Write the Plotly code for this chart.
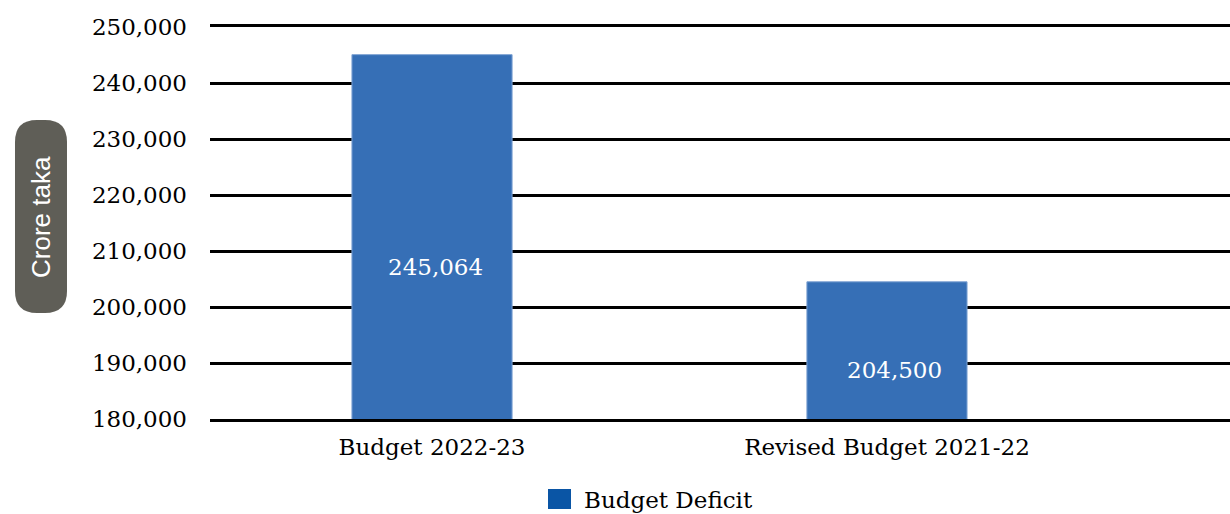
import plotly.graph_objects as go

# ---- data ----
categories = ["Budget 2022-23", "Revised Budget 2021-22"]
budget_deficit = [245064, 204500]
value_labels = ["245,064", "204,500"]
series_name = "Budget Deficit"
y_title = "Crore taka"
y_ticks = [180000, 190000, 200000, 210000, 220000, 230000, 240000, 250000]
y_tick_text = ["180,000", "190,000", "200,000", "210,000", "220,000", "230,000", "240,000", "250,000"]

# ---- layout constants ----
W, H = 1230, 514
ML, MR, MT, MB = 210, 0, 27, 95
PW = W - ML - MR
PH = H - MT - MB
SERIF = "DejaVu Serif"
SANS = "Liberation Sans"
BAR_COLOR = "#366FB6"
LEGEND_COLOR = "#0A55A5"
label_y = [207100, 188800]
label_xshift = [3, 8]


def px_x(px):
    return (px - ML) / PW


def px_y(py):
    return (H - MB - py) / PH


def rounded_rect(x0, y0, x1, y1, r):
    pts = [
        ("M", [(x0 + r, y0)]),
        ("L", [(x1 - r, y0)]),
        ("Q", [(x1, y0), (x1, y0 + r)]),
        ("L", [(x1, y1 - r)]),
        ("Q", [(x1, y1), (x1 - r, y1)]),
        ("L", [(x0 + r, y1)]),
        ("Q", [(x0, y1), (x0, y1 - r)]),
        ("L", [(x0, y0 + r)]),
        ("Q", [(x0, y0), (x0 + r, y0)]),
    ]
    s = ""
    for cmd, ps in pts:
        s += cmd + " " + " ".join(f"{px_x(a):.5f},{px_y(b):.5f}" for a, b in ps) + " "
    return s + "Z"


fig = go.Figure()
fig.add_trace(go.Bar(
    x=categories,
    y=budget_deficit,
    name=series_name,
    width=0.352,
    marker=dict(color=BAR_COLOR, line=dict(color="#7FA3D3", width=1)),
    showlegend=False,
    hoverinfo="x+y",
))

for i, cat in enumerate(categories):
    fig.add_annotation(
        x=cat, y=label_y[i], xref="x", yref="y",
        text=value_labels[i], showarrow=False, xshift=label_xshift[i],
        font=dict(family=SERIF, size=23, color="white"),
    )

# y-axis title box
fig.add_shape(
    type="path", xref="paper", yref="paper",
    path=rounded_rect(15, 120, 67, 313, 22),
    fillcolor="#5F5E57", line=dict(width=0), layer="above",
)
fig.add_annotation(
    x=px_x(41), y=px_y(217), xref="paper", yref="paper",
    xanchor="center", yanchor="middle",
    text=y_title, textangle=-90, showarrow=False,
    font=dict(family=SANS, size=26, color="white"),
)

# legend (manual)
fig.add_shape(
    type="rect", xref="paper", yref="paper",
    x0=px_x(548), x1=px_x(571), y0=px_y(509), y1=px_y(489),
    fillcolor=LEGEND_COLOR, line=dict(width=0),
)
fig.add_annotation(
    x=px_x(582), y=px_y(500), xref="paper", yref="paper",
    text=series_name, showarrow=False, xanchor="left", yanchor="middle",
    font=dict(family=SERIF, size=23, color="black"),
)

fig.update_layout(
    width=W, height=H,
    margin=dict(l=ML, r=MR, t=MT, b=MB, pad=0),
    paper_bgcolor="white", plot_bgcolor="white",
    showlegend=False,
    font=dict(family=SERIF, size=23, color="black"),
    xaxis=dict(
        range=[-0.488, 1.754], showgrid=False, zeroline=False,
        showline=True, mirror=True, linecolor="black", linewidth=3,
        ticks="", ticklabelstandoff=5,
        tickfont=dict(family=SERIF, size=23, color="black"),
        fixedrange=True,
    ),
    yaxis=dict(
        range=[180000, 250000], tickvals=y_ticks, ticktext=y_tick_text,
        showgrid=True, gridcolor="black", gridwidth=3,
        zeroline=False, showline=False, ticks="", ticklabelstandoff=22,
        tickfont=dict(family=SERIF, size=23, color="black"),
        fixedrange=True,
    ),
    bargap=0.5,
)

fig.write_html("out.html")
